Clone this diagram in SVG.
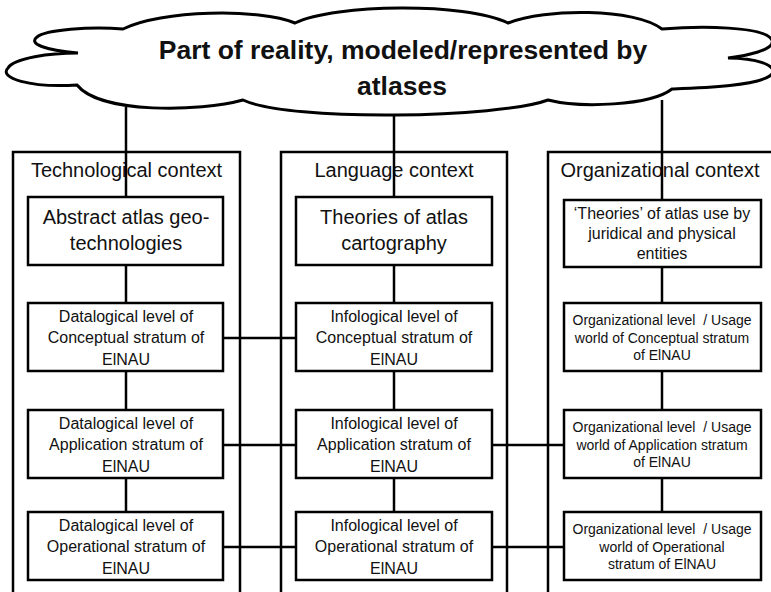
<svg xmlns="http://www.w3.org/2000/svg" width="771" height="592" viewBox="0 0 771 592">
  <style>
    .frame { fill: none; stroke: #000; stroke-width: 2.5; }
    .box { fill: #fff; stroke: #000; stroke-width: 2.5; }
    .cloud { fill: #fff; stroke: #000; stroke-width: 3; stroke-linejoin: miter; }
    .link { fill: none; stroke: #000; stroke-width: 2.5; }
    text { font-family: "Liberation Sans", Arial, sans-serif; fill: #111; text-anchor: middle; white-space: pre; }
    .title { font-size: 26.5px; font-weight: bold; }
    .head { font-size: 20px; }
    .top { font-size: 20px; }
    .top3 { font-size: 16px; }
    .lvl { font-size: 16px; }
    .lvl3 { font-size: 14px; }
  </style>

  <rect width="771" height="592" fill="#fff"/>

  <!-- context columns (open at the bottom) -->
  <g id="col-tech">
    <rect class="frame" x="13" y="152" width="227" height="470"/>
    <text class="head" x="126.5" y="177">Technological context</text>
  </g>
  <g id="col-lang">
    <rect class="frame" x="281" y="152" width="226" height="470"/>
    <text class="head" x="394" y="177">Language context</text>
  </g>
  <g id="col-org">
    <rect class="frame" x="548" y="152" width="260" height="470"/>
    <text class="head" x="660" y="177">Organizational context</text>
  </g>

  <!-- reality cloud -->
  <g id="reality">
    <path class="cloud" d="M123,29 C160,10 260,8 295,23 C335,4 465,2 508,23 C545,8 635,8 662,29 C700,26 765,26 772,40 C776,50 745,56 728,58 C755,58 778,65 772,74 C762,86 700,88 672,89 C650,106 580,108 548,100 C500,118 290,122 243,100 C200,112 100,114 77,85 C30,88 -2,78 8,68 C14,58 50,53 78,53 C45,50 28,44 37,37 C45,30 90,26 123,29 Z"/>
    <text class="title" x="403" y="59">Part of reality, modeled/represented by</text>
    <text class="title" x="402" y="95">atlases</text>
  </g>

  <!-- top-level boxes -->
  <g id="tech-top">
    <rect class="box" x="28" y="197" width="195" height="68"/>
    <text class="top" x="126" y="224">Abstract atlas geo-</text>
    <text class="top" x="126" y="250">technologies</text>
  </g>
  <g id="lang-top">
    <rect class="box" x="296" y="197" width="196" height="68"/>
    <text class="top" x="394" y="224">Theories of atlas</text>
    <text class="top" x="394" y="250">cartography</text>
  </g>
  <g id="org-top">
    <rect class="box" x="564" y="200" width="197" height="67"/>
    <text class="top3" x="662" y="219">‘Theories’ of atlas use by</text>
    <text class="top3" x="662" y="239">juridical and physical</text>
    <text class="top3" x="662" y="259">entities</text>
  </g>

  <!-- conceptual stratum -->
  <g id="tech-conceptual">
    <rect class="box" x="28" y="303" width="195" height="68"/>
    <text class="lvl" x="126" y="321.5">Datalogical level of</text>
    <text class="lvl" x="126" y="343">Conceptual stratum of</text>
    <text class="lvl" x="126" y="364.5">ElNAU</text>
  </g>
  <g id="lang-conceptual">
    <rect class="box" x="296" y="303" width="196" height="68"/>
    <text class="lvl" x="394" y="321.5">Infological level of</text>
    <text class="lvl" x="394" y="343">Conceptual stratum of</text>
    <text class="lvl" x="394" y="364.5">ElNAU</text>
  </g>
  <g id="org-conceptual">
    <rect class="box" x="564" y="303" width="197" height="68"/>
    <text class="lvl3" x="662" y="325" xml:space="preserve">Organizational level  / Usage</text>
    <text class="lvl3" x="662" y="342.5">world of Conceptual stratum</text>
    <text class="lvl3" x="662" y="360">of ElNAU</text>
  </g>

  <!-- application stratum -->
  <g id="tech-application">
    <rect class="box" x="28" y="410" width="195" height="68"/>
    <text class="lvl" x="126" y="428.5">Datalogical level of</text>
    <text class="lvl" x="126" y="450">Application stratum of</text>
    <text class="lvl" x="126" y="471.5">ElNAU</text>
  </g>
  <g id="lang-application">
    <rect class="box" x="296" y="410" width="196" height="68"/>
    <text class="lvl" x="394" y="428.5">Infological level of</text>
    <text class="lvl" x="394" y="450">Application stratum of</text>
    <text class="lvl" x="394" y="471.5">ElNAU</text>
  </g>
  <g id="org-application">
    <rect class="box" x="564" y="410" width="197" height="68"/>
    <text class="lvl3" x="662" y="432" xml:space="preserve">Organizational level  / Usage</text>
    <text class="lvl3" x="662" y="449.5">world of Application stratum</text>
    <text class="lvl3" x="662" y="467">of ElNAU</text>
  </g>

  <!-- operational stratum -->
  <g id="tech-operational">
    <rect class="box" x="28" y="512" width="195" height="68"/>
    <text class="lvl" x="126" y="530.5">Datalogical level of</text>
    <text class="lvl" x="126" y="552">Operational stratum of</text>
    <text class="lvl" x="126" y="573.5">ElNAU</text>
  </g>
  <g id="lang-operational">
    <rect class="box" x="296" y="512" width="196" height="68"/>
    <text class="lvl" x="394" y="530.5">Infological level of</text>
    <text class="lvl" x="394" y="552">Operational stratum of</text>
    <text class="lvl" x="394" y="573.5">ElNAU</text>
  </g>
  <g id="org-operational">
    <rect class="box" x="564" y="512" width="197" height="68"/>
    <text class="lvl3" x="662" y="534" xml:space="preserve">Organizational level  / Usage</text>
    <text class="lvl3" x="662" y="551.5">world of Operational</text>
    <text class="lvl3" x="662" y="569">stratum of ElNAU</text>
  </g>

  <!-- connectors -->
  <g id="connectors">
    <!-- cloud to top boxes -->
    <line class="link" x1="126" y1="107" x2="126" y2="197"/>
    <line class="link" x1="394" y1="116" x2="394" y2="197"/>
    <line class="link" x1="662" y1="100" x2="662" y2="200"/>
    <!-- vertical chains -->
    <line class="link" x1="126" y1="265" x2="126" y2="303"/>
    <line class="link" x1="126" y1="371" x2="126" y2="410"/>
    <line class="link" x1="126" y1="478" x2="126" y2="512"/>
    <line class="link" x1="394" y1="265" x2="394" y2="303"/>
    <line class="link" x1="394" y1="371" x2="394" y2="410"/>
    <line class="link" x1="394" y1="478" x2="394" y2="512"/>
    <line class="link" x1="662" y1="267" x2="662" y2="303"/>
    <line class="link" x1="662" y1="371" x2="662" y2="410"/>
    <line class="link" x1="662" y1="478" x2="662" y2="512"/>
    <!-- horizontal links between columns -->
    <line class="link" x1="223" y1="338" x2="296" y2="338"/>
    <line class="link" x1="223" y1="445" x2="296" y2="445"/>
    <line class="link" x1="492" y1="445" x2="564" y2="445"/>
    <line class="link" x1="223" y1="547" x2="296" y2="547"/>
    <line class="link" x1="492" y1="547" x2="564" y2="547"/>
  </g>
</svg>
